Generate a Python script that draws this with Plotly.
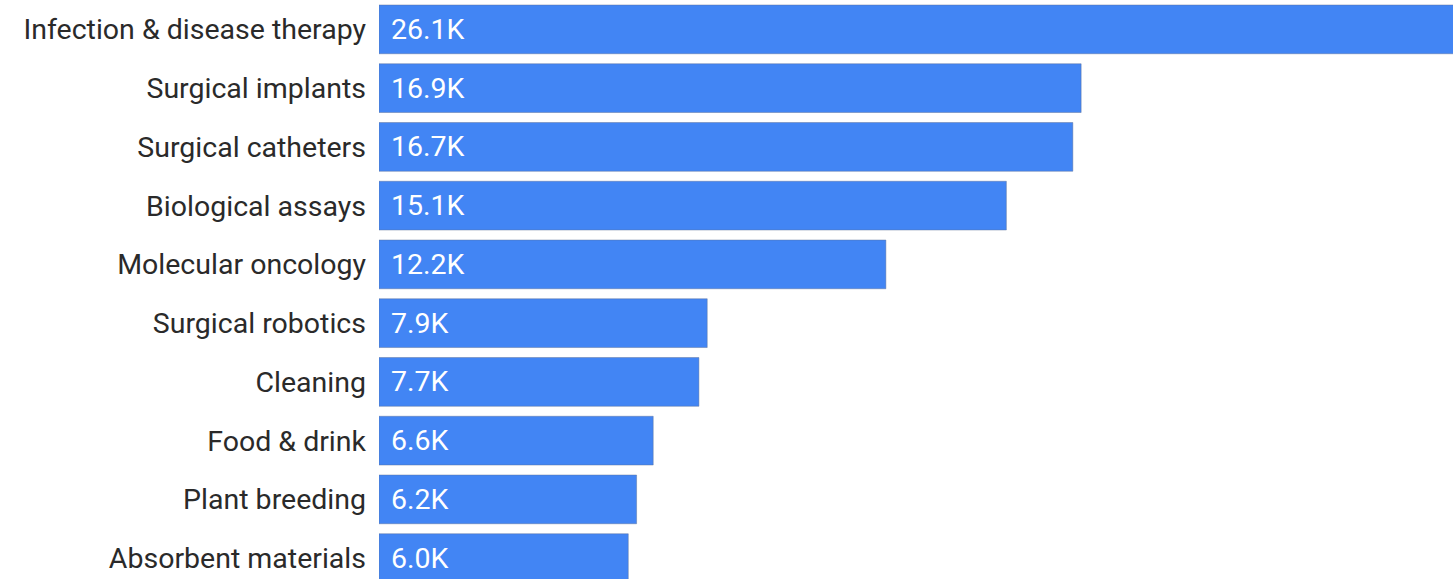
import plotly.graph_objects as go

categories = [
    "Infection & disease therapy",
    "Surgical implants",
    "Surgical catheters",
    "Biological assays",
    "Molecular oncology",
    "Surgical robotics",
    "Cleaning",
    "Food & drink",
    "Plant breeding",
    "Absorbent materials",
]
values = [26100, 16900, 16700, 15100, 12200, 7900, 7700, 6600, 6200, 6000]
value_labels = ["26.1K", "16.9K", "16.7K", "15.1K", "12.2K", "7.9K", "7.7K", "6.6K", "6.2K", "6.0K"]

FONT = "Roboto"
BAR = "#4285F4"
FS = 28.5

fig = go.Figure(
    go.Bar(
        x=values,
        y=categories,
        orientation="h",
        marker=dict(color=BAR, line=dict(color="rgba(90,110,150,0.45)", width=1)),
        hoverinfo="skip",
    )
)

for c, lbl in zip(categories, value_labels):
    fig.add_annotation(
        x=0, y=c, text=lbl, showarrow=False, xanchor="left", yanchor="middle",
        xshift=10, font=dict(family=FONT, size=FS, color="white"),
    )

fig.update_layout(
    width=1453,
    height=579,
    margin=dict(l=379, r=0, t=0, b=0),
    paper_bgcolor="white",
    plot_bgcolor="white",
    bargap=0.17,
    showlegend=False,
    font=dict(family=FONT, size=FS, color="#2a2a2a"),
)
fig.update_xaxes(range=[0, 25850], visible=False, showgrid=False, zeroline=False)
fig.update_yaxes(
    categoryorder="array",
    categoryarray=categories,
    range=[9.355, -0.5],
    showgrid=False,
    zeroline=False,
    showline=False,
    ticks="",
    ticklabelstandoff=12,
    tickfont=dict(family=FONT, size=FS, color="#2a2a2a"),
)

fig.write_html(
    "out.html",
    config={"displayModeBar": False},
    post_script="document.body.style.margin='0';document.body.style.overflow='hidden';",
)
